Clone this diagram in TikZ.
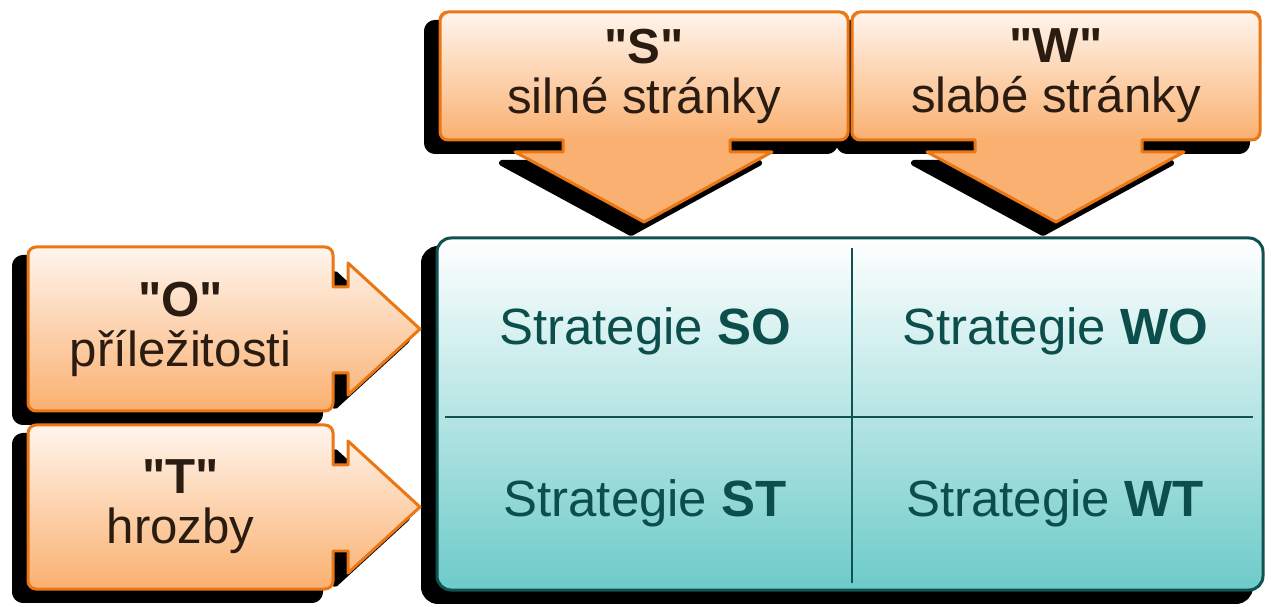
\documentclass[tikz,border=0pt]{standalone}
\usepackage{fontspec}
\setmainfont{Liberation Sans}
\usepackage{tikz}

\definecolor{swotorange}{RGB}{235,118,20}
\definecolor{swotfill}{RGB}{250,176,112}
\definecolor{swotlight}{RGB}{255,245,237}
\definecolor{swotbrown}{RGB}{43,28,18}
\definecolor{swotdark}{RGB}{16,82,79}
\definecolor{swotteal}{RGB}{12,78,75}
\definecolor{swotaqua}{RGB}{108,203,201}

\tikzstyle{dropshadow} = [fill=black, draw=black, line width=0.12cm, line join=round]
\tikzstyle{orangeline} = [draw=swotorange, line width=0.06cm, line join=round]
\tikzstyle{tealline} = [draw=swotdark, line width=0.06cm]
\tikzstyle{divider} = [draw=swotdark, line width=0.05cm]
\tikzstyle{calloutlabel} = [text=swotbrown, align=center, inner sep=0pt,
	font=\fontsize{28}{28.5}\selectfont]
\tikzstyle{celltext} = [text=swotteal, anchor=base, inner sep=0pt,
	font=\fontsize{29}{29}\selectfont]

% outline of a box with its arrow pointing down
\newcommand{\toppath}{(0,8) arc[start angle=180, end angle=270, radius=8]
	-- (400,0) arc[start angle=270, end angle=360, radius=8]
	-- (408,120) arc[start angle=0, end angle=90, radius=8]
	-- (290,128) -- (290,140) -- (332,140) -- (204,210) -- (75,140)
	-- (123,140) -- (123,128)
	-- (8,128) arc[start angle=90, end angle=180, radius=8] -- cycle}
% outline of a box with its arrow pointing right
\newcommand{\sidepath}{(0,8) arc[start angle=180, end angle=270, radius=8]
	-- (297,0) arc[start angle=270, end angle=360, radius=8]
	-- (305,40) -- (320,40) -- (320,16) -- (392,82) -- (320,148)
	-- (320,126) -- (305,126)
	-- (305,156) arc[start angle=0, end angle=90, radius=8]
	-- (8,164) arc[start angle=90, end angle=180, radius=8] -- cycle}

\begin{document}
\begin{tikzpicture}[x=0.02cm, y=-0.02cm]
	\useasboundingbox (0,0) rectangle (1271,607);
	
	% shadows
	\foreach \xs in {0,412}{
		\begin{scope}[shift={(440+\xs-13,12+11)}]
		\path[dropshadow] \toppath;
		\end{scope}
	}
	\foreach \ys in {0,178}{
		\begin{scope}[shift={(28-13,247+\ys+11)}]
		\path[dropshadow] \sidepath;
		\end{scope}
	}
	\path[dropshadow, rounded corners=8] (424,249) rectangle (1250,601);
	
	% S and W
	\foreach \xs/\letter/\word/\name in {0/S/silné stránky/strong, 412/W/slabé stránky/weak}{
		\begin{scope}[shift={(440+\xs,12)}]
		\fill[swotfill] \toppath;
		\shade[top color=swotlight, bottom color=swotfill, rounded corners=8] (0,0) rectangle (408,128);
		\draw[orangeline] \toppath;
		\node[calloutlabel] (\name) at (204,64) {\textbf{\textquotedbl\letter\textquotedbl}\\\word};
		\end{scope}
	}
	
	% O and T
	\foreach \ys/\letter/\word/\name in {0/O/příležitosti/chance, 178/T/hrozby/threat}{
		\begin{scope}[shift={(28,247+\ys)}]
		\shade[top color=swotlight, bottom color=swotfill] \sidepath;
		\draw[orangeline] \sidepath;
		\node[calloutlabel] (\name) at (152.5,82) {\textbf{\textquotedbl\letter\textquotedbl}\\\word};
		\end{scope}
	}
	
	% strategy matrix
	\shade[top color=white, bottom color=swotaqua, rounded corners=8] (437,238) rectangle (1263,590);
	\draw[tealline, rounded corners=8] (437,238) rectangle (1263,590);
	\coordinate (midtop) at (852,248);
	\coordinate (midbot) at (852,583);
	\coordinate (midleft) at (445,417);
	\coordinate (midright) at (1253,417);
	\draw[divider] (midtop) -- (midbot);
	\draw[divider] (midleft) -- (midright);
	
	\node[celltext] (SO) at (645,345) {Strategie \textbf{SO}};
	\node[celltext] (WO) at (1055,345) {Strategie \textbf{WO}};
	\node[celltext] (ST) at (645,517) {Strategie \textbf{ST}};
	\node[celltext] (WT) at (1055,517) {Strategie \textbf{WT}};
	
\end{tikzpicture}
\end{document}
